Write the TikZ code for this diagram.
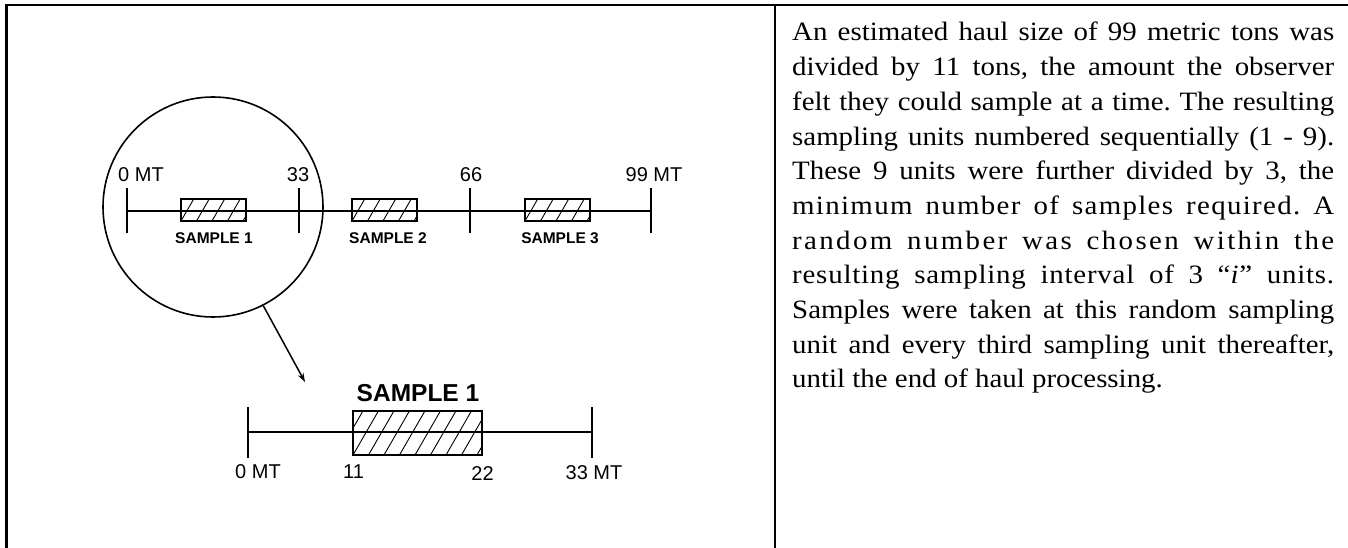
\documentclass[tikz,border=0pt]{standalone}
\usepackage{fontspec}
\setmainfont{Liberation Serif}
\newfontfamily\arial{Liberation Sans}
\newfontfamily\bodyfont[FakeStretch=1.09]{Liberation Serif}
\usetikzlibrary{arrows.meta,calc}

\tikzset{
  frame/.style={line width=2.2pt},
  axisline/.style={line width=1.9pt},
  tickmark/.style={line width=2.4pt},
  lab/.style={inner sep=0pt, font=\arial\fontsize{20}{22}\selectfont},
  smalllab/.style={inner sep=0pt, font=\arial\bfseries\fontsize{15.5}{17}\selectfont},
  biglab/.style={inner sep=0pt, font=\arial\bfseries\fontsize{24.5}{26}\selectfont},
  hatched/.style={draw, line width=2pt, inner sep=0pt,
    path picture={
      \foreach \k in {-3,...,10}{
        \draw[line width=0.9pt]
          ([xshift=\k*15.5pt]path picture bounding box.south west) -- ++(60:90pt);
      }}},
  smallbox/.style={hatched, minimum width=65pt, minimum height=22pt},
  bigbox/.style={hatched, minimum width=129pt, minimum height=44pt},
  lens/.style={draw, circle, line width=1.6pt, minimum size=220pt, inner sep=0pt},
  pointer/.style={line width=1.5pt, -{Stealth[length=9pt,width=6pt]}},
  body/.style={anchor=base west, inner sep=0pt, text width=542pt, align=justify,
    font=\bodyfont\fontsize{26.5}{34.7}\selectfont\frenchspacing}
}

\begin{document}
\begin{tikzpicture}[x=1pt,y=-1pt]
\useasboundingbox (0,0) rectangle (1348,548);

% table rules
\draw[frame] (6.5,548) -- (6.5,5) -- (1348,5);
\draw[frame] (775,5) -- (775,548);

% whole haul: 0 to 99 MT
\coordinate (a0) at (127,211);
\coordinate (a99) at (651,211);
\draw[axisline] (a0) -- (a99);
\foreach \x/\n in {127/0,299/33,470/66,651/99}{
  \coordinate (ta\n) at (\x,188);
  \coordinate (tb\n) at (\x,233);
  \draw[tickmark] (ta\n) -- (tb\n);
}
\node[lab] (l0) at (141,175) {0 MT};
\node[lab] (l33) at (298,175) {33};
\node[lab] (l66) at (471,175) {66};
\node[lab] (l99) at (654,175) {99 MT};

\node[smallbox] (s1) at (213.5,210) {};
\node[smallbox] (s2) at (384.5,210) {};
\node[smallbox] (s3) at (557.5,210) {};
\node[smalllab] (s1l) at (214,238) {SAMPLE 1};
\node[smalllab] (s2l) at (388,238) {SAMPLE 2};
\node[smalllab] (s3l) at (560,238) {SAMPLE 3};

% magnifier round the first third
\node[lens] (zoom) at (213,207) {};
\coordinate (tip) at (305,382);
\draw[pointer] (zoom.-63) -- (tip);

% enlarged first third: 0 to 33 MT
\coordinate (b0) at (248,432);
\coordinate (b33) at (592,432);
\draw[axisline] (b0) -- (b33);
\coordinate (ua) at (248,407);
\coordinate (ub) at (248,458);
\coordinate (va) at (592,407);
\coordinate (vb) at (592,458);
\draw[tickmark] (ua) -- (ub);
\draw[tickmark] (va) -- (vb);
\node[bigbox] (big) at (417.5,433) {};
\node[biglab] (bigl) at (418,393) {SAMPLE 1};
\node[lab] (m0) at (258,472) {0 MT};
\node[lab] (m11) at (353.5,472) {11};
\node[lab] (m22) at (482.5,474) {22};
\node[lab] (m33) at (594,473) {33 MT};

% explanation
\node[body] (txt) at (792,41) {%
An estimated haul size of 99 metric tons was\linebreak
divided by 11 tons, the amount the observer\linebreak
felt they could sample at a time. The resulting\linebreak
sampling units numbered sequentially (1 - 9).\linebreak
These 9 units were further divided by 3, the\linebreak
{\addfontfeature{LetterSpace=5}minimum number of samples required. A}\linebreak
{\addfontfeature{LetterSpace=9}random number was chosen within the}\linebreak
{\addfontfeature{LetterSpace=3}resulting sampling interval of 3 “\textit{i}” units.}\linebreak
Samples were taken at this random sampling\linebreak
unit and every third sampling unit thereafter,\linebreak
until the end of haul processing.};
\end{tikzpicture}
\end{document}
